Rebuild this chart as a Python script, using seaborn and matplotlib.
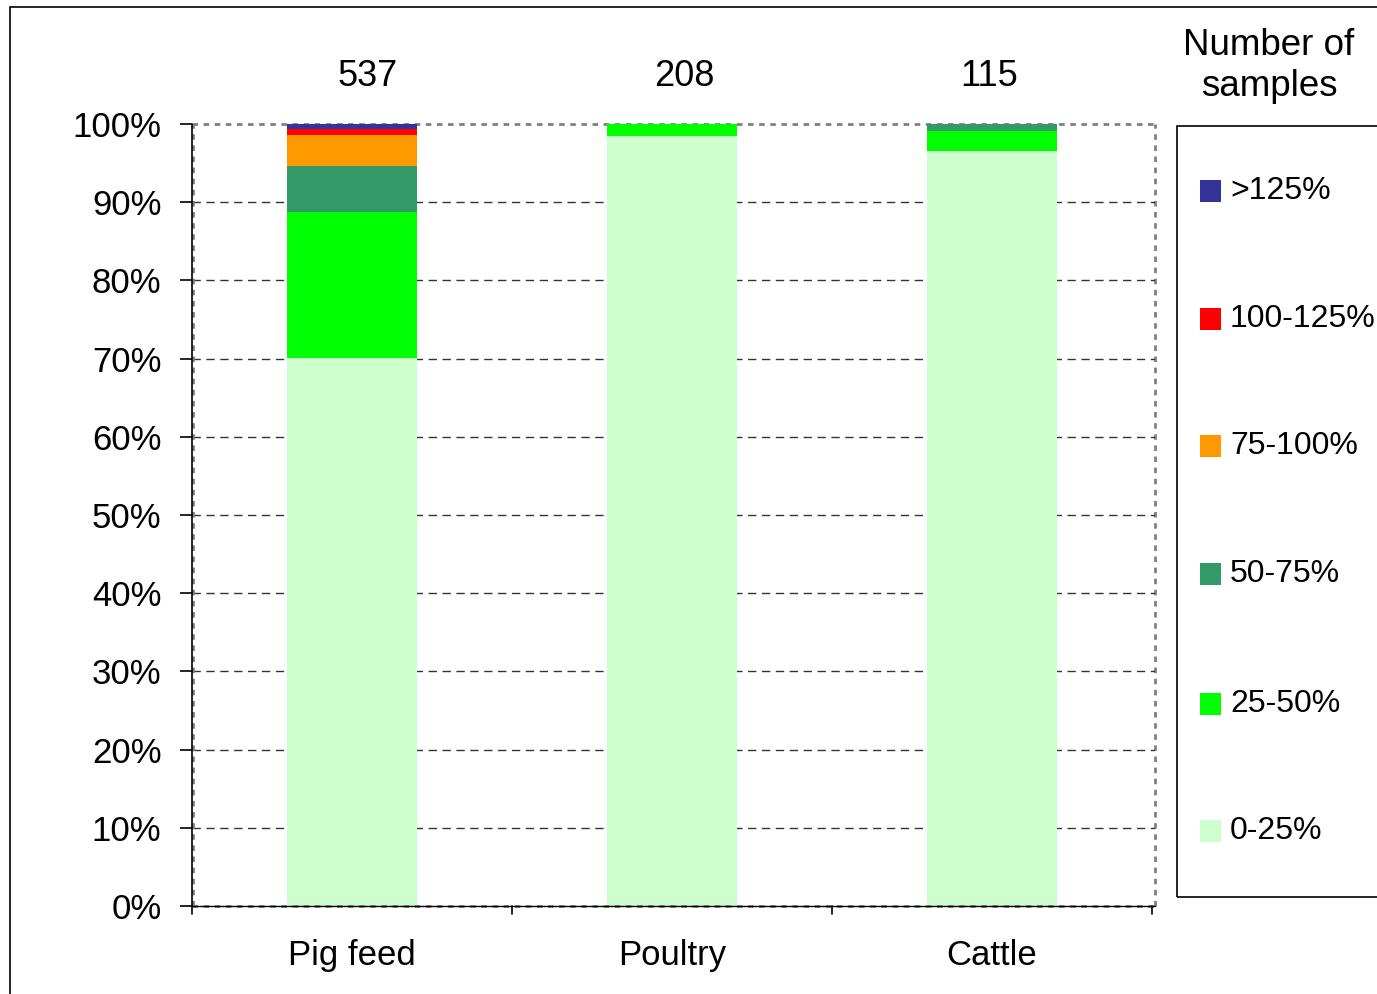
import matplotlib
matplotlib.use("Agg")
import matplotlib.pyplot as plt
import seaborn as sns
import numpy as np
import pandas as pd
from matplotlib.patches import Rectangle

# ---- data ----
categories = ["Pig feed", "Poultry", "Cattle"]
sample_counts = [537, 208, 115]
bands = ["0-25%", "25-50%", "50-75%", "75-100%", "100-125%", ">125%"]
pct_0_25 = [70.1, 98.5, 96.5]
pct_25_50 = [18.7, 1.5, 2.6]
pct_50_75 = [5.85, 0.0, 0.9]
pct_75_100 = [3.95, 0.0, 0.0]
pct_100_125 = [0.72, 0.0, 0.0]
pct_over_125 = [0.68, 0.0, 0.0]
band_values = [pct_0_25, pct_25_50, pct_50_75, pct_75_100, pct_100_125, pct_over_125]
colors = ["#CCFFCC", "#00FF00", "#339966", "#FF9900", "#FF0000", "#333399"]

sns.set_theme(style="white")
plt.rcParams["font.family"] = ["Liberation Sans", "DejaVu Sans"]
plt.rcParams["text.color"] = "black"
plt.rcParams["xtick.color"] = "black"
plt.rcParams["ytick.color"] = "black"
plt.rcParams["xtick.labelcolor"] = "black"
plt.rcParams["ytick.labelcolor"] = "black"
FS = 25
FS_LEG = 23

fig = plt.figure(figsize=(13.77, 9.94), dpi=100)
ax = fig.add_axes([192 / 1377, 1 - 906 / 994, (1155 - 192) / 1377, (906 - 124) / 994])

# stacked bars: draw cumulative totals from top layer down
cum = np.cumsum(np.array(band_values), axis=0)
for i in range(len(bands) - 1, -1, -1):
    df = pd.DataFrame({"cat": categories, "val": cum[i]})
    sns.barplot(data=df, x="cat", y="val", color=colors[i], saturation=1,
                width=0.406, ax=ax, linewidth=0, errorbar=None)

ax.set_ylim(0, 100)
ax.set_xlim(-0.5, 2.5 + 3 / 320)
ax.set_yticks(np.arange(0, 101, 10))
ax.set_yticklabels([f"{v}%" for v in range(0, 101, 10)], fontsize=FS)
ax.set_xlabel("")
ax.set_ylabel("")
ax.set_xticks([0, 1, 2])
ax.set_xticklabels(categories, fontsize=FS)
ax.tick_params(axis="x", length=0, pad=24)
ax.tick_params(axis="y", length=9, width=1.2, color="black", direction="out",
               pad=13, left=True)

# gridlines
for v in range(10, 100, 10):
    ax.axhline(v, color="#333333", lw=1, ls=(0, (6, 4)), zorder=0.5)

# plot area dotted border
for s in ["top", "right", "bottom", "left"]:
    ax.spines[s].set_visible(False)
ax.plot([0, 1], [1, 1], transform=ax.transAxes, color="#808080", lw=2,
        ls=(0, (2, 2)), clip_on=False, zorder=0.4)
ax.plot([1, 1], [0, 1], transform=ax.transAxes, color="#808080", lw=2,
        ls=(0, (2, 2)), clip_on=False, zorder=0.4)
ax.plot([0, 1], [0, 0], transform=ax.transAxes, color="#808080", lw=2,
        ls=(0, (2, 2)), clip_on=False, zorder=3)
ax.plot([0.0015, 0.0015], [0, 1], transform=ax.transAxes, color="#808080", lw=2,
        ls=(0, (2, 2)), clip_on=False, zorder=3)
# solid axes
ax.plot([0, 0], [0, 1], transform=ax.transAxes, color="black", lw=1.2, clip_on=False, zorder=4)
ax.plot([0, 1], [0, 0], transform=ax.transAxes, color="black", lw=1.0, clip_on=False, zorder=4)
# category boundary ticks
for b in [-0.5, 0.5, 1.5, 2.5]:
    ax.plot([b, b], [0, -1.0], color="black", lw=1.2, clip_on=False, zorder=4)

# sample counts above bars
count_dx = [0.05, 0.04, -0.01]
for i, n in enumerate(sample_counts):
    ax.text(i + count_dx[i], 1.061, str(n), transform=ax.get_xaxis_transform(),
            ha="center", va="center", fontsize=26)

# outer border
fig.patches.append(Rectangle((10 / 1377, -0.1), 1.2, 1.1 - 7 / 994, transform=fig.transFigure,
                             fill=False, edgecolor="black", lw=1.2))

# legend box
fig.patches.append(Rectangle((1177 / 1377, 1 - 897 / 994), 0.3, (897 - 126) / 994,
                             transform=fig.transFigure, fill=False, edgecolor="black", lw=1.2))
fig.text(1269 / 1377, 1 - 66 / 994, "Number of\nsamples", ha="center", va="center",
         fontsize=26.5, linespacing=1.2)
legend_y = [191, 319, 446, 574, 704, 831]
for j, yy in enumerate(legend_y):
    i = len(bands) - 1 - j
    fig.patches.append(Rectangle((1200 / 1377, 1 - (yy + 11) / 994), 21 / 1377, 22 / 994,
                                 transform=fig.transFigure, facecolor=colors[i],
                                 edgecolor="none"))
    fig.text(1230 / 1377, 1 - yy / 994, bands[i], ha="left", va="center", fontsize=FS_LEG)

fig.savefig("out.png", dpi=100)
